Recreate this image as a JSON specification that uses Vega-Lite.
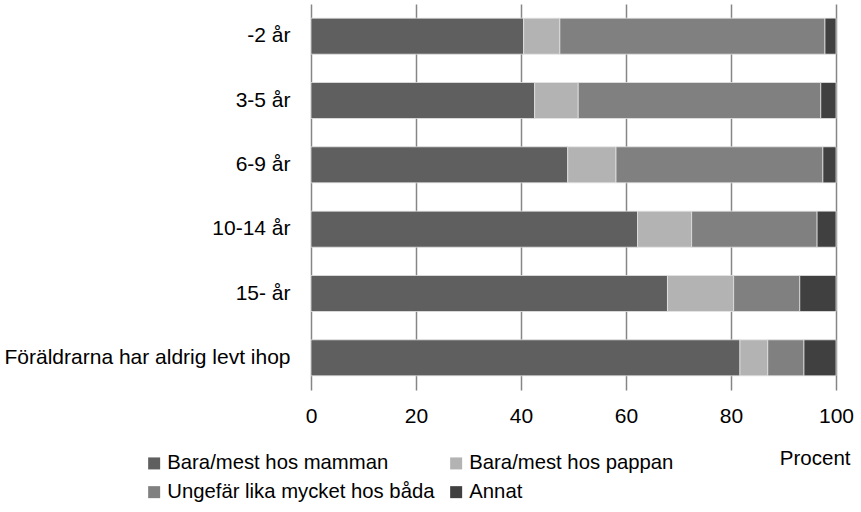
{
  "$schema": "https://vega.github.io/schema/vega-lite/v6.json",
  "autosize": {"type": "none"},
  "width": 525,
  "height": 386,
  "padding": {"left": 311, "top": 4, "right": 25, "bottom": 122},
  "background": "white",
  "config": {
    "font": "Liberation Sans",
    "view": {"stroke": null},
    "axis": {"labelFont": "Liberation Sans", "titleFont": "Liberation Sans", "labelColor": "#000000", "titleColor": "#000000"},
    "legend": {"labelFont": "Liberation Sans", "labelColor": "#000000"}
  },
  "data": {
    "values": [
      {"grupp": "-2 år", "boende": "Bara/mest hos mamman", "ordning": 1, "procent": 40.5},
      {"grupp": "-2 år", "boende": "Bara/mest hos pappan", "ordning": 2, "procent": 6.9},
      {"grupp": "-2 år", "boende": "Ungefär lika mycket hos båda", "ordning": 3, "procent": 50.5},
      {"grupp": "-2 år", "boende": "Annat", "ordning": 4, "procent": 2.1},
      {"grupp": "3-5 år ", "boende": "Bara/mest hos mamman", "ordning": 1, "procent": 42.6},
      {"grupp": "3-5 år ", "boende": "Bara/mest hos pappan", "ordning": 2, "procent": 8.3},
      {"grupp": "3-5 år ", "boende": "Ungefär lika mycket hos båda", "ordning": 3, "procent": 46.2},
      {"grupp": "3-5 år ", "boende": "Annat", "ordning": 4, "procent": 2.9},
      {"grupp": "6-9 år ", "boende": "Bara/mest hos mamman", "ordning": 1, "procent": 48.9},
      {"grupp": "6-9 år ", "boende": "Bara/mest hos pappan", "ordning": 2, "procent": 9.2},
      {"grupp": "6-9 år ", "boende": "Ungefär lika mycket hos båda", "ordning": 3, "procent": 39.4},
      {"grupp": "6-9 år ", "boende": "Annat", "ordning": 4, "procent": 2.5},
      {"grupp": "10-14 år", "boende": "Bara/mest hos mamman", "ordning": 1, "procent": 62.2},
      {"grupp": "10-14 år", "boende": "Bara/mest hos pappan", "ordning": 2, "procent": 10.3},
      {"grupp": "10-14 år", "boende": "Ungefär lika mycket hos båda", "ordning": 3, "procent": 23.9},
      {"grupp": "10-14 år", "boende": "Annat", "ordning": 4, "procent": 3.6},
      {"grupp": "15- år ", "boende": "Bara/mest hos mamman", "ordning": 1, "procent": 67.9},
      {"grupp": "15- år ", "boende": "Bara/mest hos pappan", "ordning": 2, "procent": 12.6},
      {"grupp": "15- år ", "boende": "Ungefär lika mycket hos båda", "ordning": 3, "procent": 12.6},
      {"grupp": "15- år ", "boende": "Annat", "ordning": 4, "procent": 6.9},
      {"grupp": "Föräldrarna har aldrig levt ihop", "boende": "Bara/mest hos mamman", "ordning": 1, "procent": 81.7},
      {"grupp": "Föräldrarna har aldrig levt ihop", "boende": "Bara/mest hos pappan", "ordning": 2, "procent": 5.3},
      {"grupp": "Föräldrarna har aldrig levt ihop", "boende": "Ungefär lika mycket hos båda", "ordning": 3, "procent": 6.9},
      {"grupp": "Föräldrarna har aldrig levt ihop", "boende": "Annat", "ordning": 4, "procent": 6.1}
    ]
  },
  "mark": {"type": "bar", "stroke": "#e6e6e6", "strokeWidth": 0.75},
  "encoding": {
    "y": {
      "field": "grupp",
      "type": "nominal",
      "sort": null,
      "scale": {"paddingInner": 0.44, "paddingOuter": 0.22},
      "axis": {
        "title": null,
        "ticks": false,
        "domain": false,
        "labelPadding": 21,
        "labelFontSize": 21,
        "labelLimit": 400
      }
    },
    "x": {
      "field": "procent",
      "type": "quantitative",
      "stack": "zero",
      "scale": {"domain": [0, 100], "nice": false},
      "axis": {
        "values": [0, 20, 40, 60, 80, 100],
        "title": "Procent",
        "titleFontSize": 20.5,
        "titleFontWeight": "normal",
        "titleAnchor": "end",
        "titleAlign": "right",
        "titleBaseline": "middle",
        "titleX": 539,
        "titleY": 68,
        "labelFontSize": 21,
        "labelPadding": 15,
        "labelFlush": false,
        "ticks": false,
        "domain": false,
        "grid": true,
        "gridColor": "#868686",
        "gridWidth": 1.5
      }
    },
    "color": {
      "field": "boende",
      "type": "nominal",
      "sort": ["Bara/mest hos mamman", "Bara/mest hos pappan", "Ungefär lika mycket hos båda", "Annat"],
      "scale": {
        "domain": ["Bara/mest hos mamman", "Bara/mest hos pappan", "Ungefär lika mycket hos båda", "Annat"],
        "range": ["#5f5f5f", "#b3b3b3", "#808080", "#404040"]
      },
      "legend": {
        "title": null,
        "orient": "none",
        "legendX": -167,
        "legendY": 449,
        "columns": 2,
        "direction": "horizontal",
        "symbolType": "square",
        "symbolSize": 144,
        "symbolStrokeWidth": 0,
        "labelFontSize": 20.3,
        "labelOffset": 3,
        "columnPadding": 11,
        "rowPadding": 8,
        "labelLimit": 400
      }
    },
    "order": {"field": "ordning", "type": "quantitative"}
  }
}
